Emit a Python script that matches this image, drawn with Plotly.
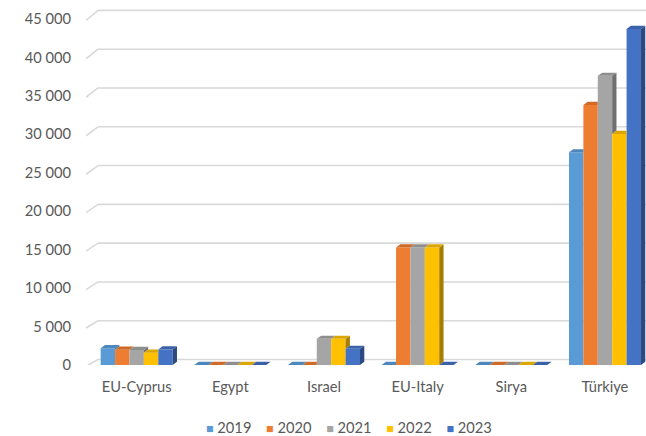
import plotly.graph_objects as go

# ---- data -------------------------------------------------------------
categories = ["EU-Cyprus", "Egypt", "Israel", "EU-Italy", "Sirya", "Türkiye"]
years = ["2019", "2020", "2021", "2022", "2023"]
v2019 = [2180, 0, 0, 0, 0, 27650]
v2020 = [1980, 0, 0, 15290, 0, 33800]
v2021 = [1950, 0, 3400, 15290, 0, 37600]
v2022 = [1590, 0, 3400, 15290, 0, 30050]
v2023 = [2010, 0, 2100, 0, 0, 43700]
tick_values = [0, 5000, 10000, 15000, 20000, 25000, 30000, 35000, 40000, 45000]
tick_labels = ["0", "5 000", "10 000", "15 000", "20 000", "25 000",
               "30 000", "35 000", "40 000", "45 000"]

series = [v2019, v2020, v2021, v2022, v2023]

# ---- styling ----------------------------------------------------------
front_colors = ["#5b9bd5", "#ed7d31", "#a5a5a5", "#ffc000", "#4472c4"]
top_colors = ["#4d87bd", "#cf6a27", "#8e8e8e", "#dca600", "#3a62a9"]
side_colors = ["#3e6f9c", "#a5531d", "#707070", "#a67d00", "#2c4a80"]

W, H = 646, 436
M_L, M_R, M_T, M_B = 86, 0, 3, 71
X_RANGE = [-0.541, 5.438]
Y_RANGE = [0, 47070]
plot_w = W - M_L - M_R
plot_h = H - M_T - M_B
ux = (X_RANGE[1] - X_RANGE[0]) / plot_w   # x units per pixel
uy = (Y_RANGE[1] - Y_RANGE[0]) / plot_h   # y units per pixel

bar_w = 14.4 * ux          # width of one column face
depth_dx = 4.3 * ux        # oblique depth of the columns
depth_dy = 3.2 * uy
n_series = len(series)


def clip_above(poly, h):
    """Keep the part of a convex polygon lying at y >= h."""
    out = []
    n = len(poly)
    for k in range(n):
        x1, y1 = poly[k]
        x2, y2 = poly[(k + 1) % n]
        in1, in2 = y1 >= h, y2 >= h
        if in1:
            out.append((x1, y1))
        if in1 != in2:
            t = (h - y1) / (y2 - y1)
            out.append((x1 + t * (x2 - x1), h))
    return out


def append_poly(xs, ys, poly):
    if len(poly) < 3:
        return
    for px, py in poly:
        xs.append(px)
        ys.append(py)
    xs.append(poly[0][0])
    ys.append(poly[0][1])
    xs.append(None)
    ys.append(None)


fig = go.Figure()

# front faces of the columns
for j, (name, vals) in enumerate(zip(years, series)):
    xpos = [i + (j - (n_series - 1) / 2) * bar_w for i in range(len(categories))]
    fig.add_trace(go.Bar(
        x=xpos, y=vals, width=bar_w, name=name, legendgroup=name,
        marker=dict(color=front_colors[j], line=dict(width=0)),
        showlegend=False, hovertemplate="%{y}<extra>" + name + "</extra>",
    ))

# top and side faces giving the columns their depth
for j, (name, vals) in enumerate(zip(years, series)):
    sx, sy, tx, ty = [], [], [], []
    for i, v in enumerate(vals):
        xl = i + (j - (n_series - 1) / 2) * bar_w - bar_w / 2
        xr = xl + bar_w
        nxt = series[j + 1][i] if j + 1 < n_series else 0
        base = nxt if j + 1 < n_series else 0
        if v > base:
            side = [(xr, base), (xr, v), (xr + depth_dx, v + depth_dy),
                    (xr + depth_dx, base + depth_dy)]
            append_poly(sx, sy, side)
        top_left = [(xl, v), (xr, v), (xr, v + depth_dy), (xl + depth_dx, v + depth_dy)]
        append_poly(tx, ty, top_left)
        top_right = [(xr, v), (xr + depth_dx, v + depth_dy), (xr, v + depth_dy)]
        if j + 1 < n_series:
            top_right = clip_above(top_right, nxt)
        append_poly(tx, ty, top_right)
    fig.add_trace(go.Scatter(
        x=sx, y=sy, mode="lines", fill="toself", fillcolor=side_colors[j],
        line=dict(width=0, color=side_colors[j]), legendgroup=name,
        showlegend=False, hoverinfo="skip",
    ))
    fig.add_trace(go.Scatter(
        x=tx, y=ty, mode="lines", fill="toself", fillcolor=top_colors[j],
        line=dict(width=0, color=top_colors[j]), legendgroup=name,
        showlegend=False, hoverinfo="skip",
    ))

# back-wall gridlines with their oblique floor-to-wall segments
wall_x0 = X_RANGE[0]
wall_x1 = X_RANGE[0] + 12 * ux
shapes = []
for v in tick_values:
    front_y = v - 1.5 * uy
    back_y = v + (5.5 + 3.0 * v / tick_values[-1]) * uy
    shapes.append(dict(type="line", xref="x", yref="y", layer="below",
                       x0=wall_x0, y0=front_y, x1=wall_x1, y1=back_y,
                       line=dict(color="#d9d9d9", width=1.6)))
    shapes.append(dict(type="line", xref="x", yref="y", layer="below",
                       x0=wall_x1, y0=back_y, x1=X_RANGE[1], y1=back_y,
                       line=dict(color="#d9d9d9", width=1.6)))

# legend row: coloured square key followed by the year
key_parts = []
for name, col in zip(years, front_colors):
    key_parts.append(
        "<span style='color:%s;font-size:12.5px'>\u25a0</span>\u00a0%s" % (col, name)
    )
legend_text = "\u2002\u2002".join(key_parts)

font_family = "Lato, Open Sans, sans-serif"
fig.update_layout(
    width=W, height=H,
    margin=dict(l=M_L, r=M_R, t=M_T, b=M_B, pad=0),
    paper_bgcolor="white", plot_bgcolor="white",
    barmode="overlay",
    shapes=shapes,
    font=dict(family=font_family, size=14.7, color="#595959"),
    xaxis=dict(range=X_RANGE, tickvals=list(range(len(categories))),
               ticktext=categories, showgrid=False, zeroline=False,
               showline=False, ticks="", ticklabelstandoff=11, fixedrange=True),
    yaxis=dict(range=Y_RANGE, tickvals=tick_values, ticktext=tick_labels,
               showgrid=False, zeroline=False, showline=False, ticks="",
               ticklabelstandoff=14, fixedrange=True),
    annotations=[dict(
        text=legend_text, xref="paper", yref="paper",
        x=(349 - M_L) / plot_w, y=-(427 - (H - M_B)) / plot_h,
        xanchor="center", yanchor="middle", showarrow=False,
        font=dict(family=font_family, size=14.7, color="#595959"),
    )],
    showlegend=False,
)

fig.write_html("out.html")
